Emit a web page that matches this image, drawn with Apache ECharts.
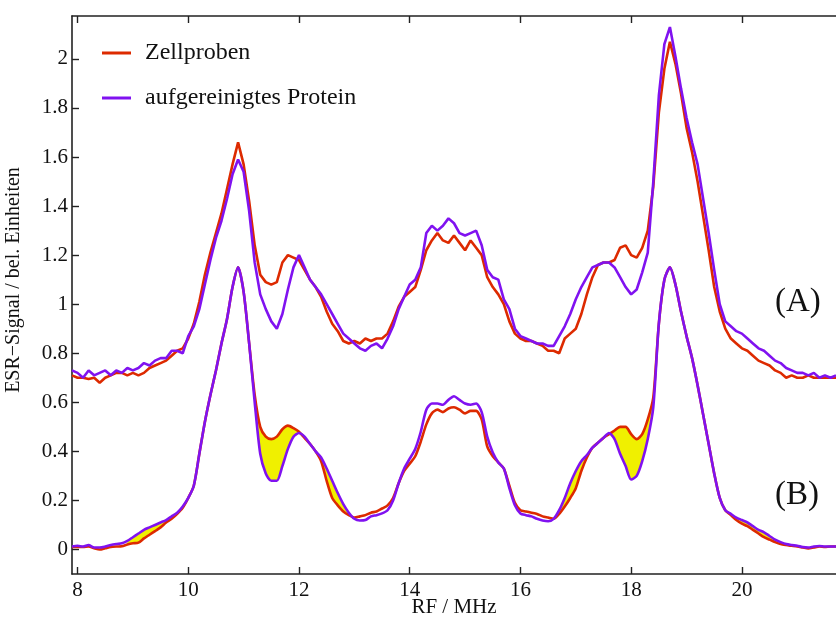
<!DOCTYPE html>
<html>
<head>
<meta charset="utf-8">
<script src="https://cdn.jsdelivr.net/npm/echarts@6/dist/echarts.min.js"></script>
<style>html,body{margin:0;padding:0;background:#fff}#chart{width:836px;height:619px}</style>
</head>
<body>
<div id="chart"></div>
<script>
// RF frequency grid (MHz)
const freq = [
  7.9,8.0,8.1,8.2,8.3,8.4,8.5,8.6,8.7,8.8,
  8.9,9.0,9.1,9.2,9.3,9.4,9.5,9.6,9.7,9.8,
  9.9,10.0,10.1,10.2,10.3,10.4,10.5,10.6,10.7,10.8,
  10.9,11.0,11.1,11.2,11.3,11.4,11.5,11.6,11.7,11.8,
  11.9,12.0,12.1,12.2,12.3,12.4,12.5,12.6,12.7,12.8,
  12.9,13.0,13.1,13.2,13.3,13.4,13.5,13.6,13.7,13.8,
  13.9,14.0,14.1,14.2,14.3,14.4,14.5,14.6,14.7,14.8,
  14.9,15.0,15.1,15.2,15.3,15.4,15.5,15.6,15.7,15.8,
  15.9,16.0,16.1,16.2,16.3,16.4,16.5,16.6,16.7,16.8,
  16.9,17.0,17.1,17.2,17.3,17.4,17.5,17.6,17.7,17.8,
  17.9,18.0,18.1,18.2,18.3,18.4,18.5,18.6,18.7,18.8,
  18.9,19.0,19.1,19.2,19.3,19.4,19.5,19.6,19.7,19.8,
  19.9,20.0,20.1,20.2,20.3,20.4,20.5,20.6,20.7,20.8,
  20.9,21.0,21.1,21.2,21.3,21.4,21.5,21.6,21.7
];
// (A) measured spectra
const zellA = [
  0.71,0.70,0.70,0.695,0.70,0.68,0.70,0.71,0.72,0.72,
  0.71,0.72,0.71,0.72,0.74,0.75,0.76,0.77,0.79,0.81,
  0.82,0.86,0.92,1.01,1.12,1.21,1.29,1.37,1.47,1.57,
  1.66,1.57,1.42,1.24,1.12,1.09,1.08,1.09,1.17,1.20,
  1.19,1.18,1.14,1.10,1.07,1.03,0.97,0.92,0.89,0.85,
  0.84,0.85,0.84,0.86,0.85,0.86,0.86,0.88,0.93,0.99,
  1.03,1.05,1.07,1.14,1.22,1.26,1.29,1.26,1.25,1.28,
  1.25,1.22,1.26,1.23,1.20,1.11,1.07,1.04,1.00,0.93,
  0.88,0.86,0.85,0.85,0.84,0.83,0.81,0.81,0.80,0.86,
  0.88,0.90,0.96,1.04,1.11,1.16,1.17,1.17,1.18,1.23,
  1.24,1.20,1.19,1.23,1.30,1.48,1.78,1.96,2.07,1.98,
  1.86,1.72,1.62,1.50,1.36,1.22,1.07,0.97,0.90,0.86,
  0.84,0.82,0.81,0.79,0.77,0.76,0.75,0.73,0.72,0.70,
  0.71,0.70,0.70,0.71,0.70,0.70,0.70,0.70,0.70
];
const protA = [
  0.73,0.72,0.70,0.73,0.71,0.72,0.73,0.71,0.73,0.72,
  0.74,0.73,0.74,0.76,0.75,0.77,0.78,0.78,0.81,0.81,
  0.80,0.87,0.91,0.98,1.08,1.18,1.27,1.34,1.43,1.53,
  1.59,1.54,1.38,1.17,1.04,0.98,0.93,0.90,0.96,1.06,
  1.15,1.20,1.15,1.10,1.07,1.04,1.00,0.96,0.92,0.88,
  0.86,0.84,0.82,0.81,0.83,0.84,0.82,0.86,0.91,0.98,
  1.03,1.08,1.10,1.15,1.29,1.32,1.30,1.32,1.35,1.33,
  1.29,1.28,1.29,1.30,1.24,1.14,1.11,1.10,1.02,0.98,
  0.90,0.87,0.86,0.85,0.84,0.84,0.83,0.83,0.87,0.91,
  0.96,1.02,1.07,1.11,1.15,1.16,1.17,1.17,1.15,1.11,
  1.07,1.04,1.06,1.13,1.21,1.50,1.85,2.06,2.13,2.01,
  1.88,1.76,1.66,1.57,1.43,1.29,1.14,1.00,0.93,0.91,
  0.89,0.88,0.86,0.84,0.82,0.81,0.79,0.77,0.76,0.74,
  0.73,0.72,0.72,0.71,0.72,0.70,0.71,0.70,0.71
];
// (B) simulated spectra
const zellB = [
  0.010,0.010,0.010,0.012,0.005,0.000,0.005,0.010,0.012,0.013,
  0.020,0.025,0.028,0.045,0.060,0.075,0.090,0.110,0.125,0.145,
  0.170,0.210,0.260,0.390,0.520,0.630,0.730,0.840,0.940,1.070,
  1.150,1.050,0.840,0.630,0.500,0.460,0.450,0.460,0.490,0.505,
  0.495,0.480,0.455,0.430,0.400,0.360,0.280,0.210,0.180,0.155,
  0.140,0.130,0.135,0.140,0.150,0.155,0.167,0.180,0.210,0.270,
  0.320,0.350,0.380,0.440,0.510,0.555,0.570,0.560,0.575,0.580,
  0.570,0.555,0.565,0.565,0.530,0.420,0.380,0.355,0.330,0.260,
  0.190,0.160,0.155,0.150,0.145,0.135,0.130,0.125,0.145,0.175,
  0.210,0.250,0.320,0.375,0.415,0.435,0.455,0.470,0.485,0.500,
  0.500,0.470,0.450,0.470,0.530,0.620,0.920,1.100,1.150,1.080,
  0.970,0.870,0.780,0.670,0.550,0.430,0.310,0.210,0.160,0.140,
  0.120,0.105,0.095,0.080,0.065,0.050,0.040,0.030,0.022,0.018,
  0.015,0.012,0.008,0.004,0.008,0.012,0.010,0.012,0.012
];
const protB = [
  0.012,0.015,0.012,0.018,0.008,0.008,0.012,0.018,0.022,0.025,
  0.035,0.050,0.065,0.080,0.090,0.100,0.110,0.120,0.135,0.150,
  0.175,0.210,0.260,0.390,0.520,0.630,0.730,0.840,0.940,1.070,
  1.150,1.050,0.840,0.600,0.390,0.310,0.280,0.280,0.340,0.410,
  0.460,0.475,0.460,0.430,0.400,0.375,0.330,0.280,0.230,0.185,
  0.150,0.125,0.118,0.120,0.135,0.140,0.147,0.160,0.200,0.270,
  0.330,0.370,0.410,0.480,0.570,0.595,0.595,0.590,0.610,0.625,
  0.610,0.595,0.590,0.595,0.560,0.460,0.395,0.355,0.330,0.250,
  0.180,0.147,0.140,0.135,0.125,0.118,0.115,0.125,0.160,0.210,
  0.270,0.320,0.360,0.385,0.415,0.435,0.455,0.475,0.450,0.390,
  0.340,0.285,0.300,0.360,0.450,0.580,0.920,1.100,1.150,1.080,
  0.970,0.870,0.780,0.670,0.550,0.430,0.310,0.210,0.160,0.145,
  0.130,0.120,0.110,0.095,0.080,0.070,0.055,0.040,0.030,0.022,
  0.018,0.015,0.010,0.008,0.012,0.014,0.012,0.012,0.012
];
// regions of (B) where the difference is highlighted
const fillRanges = [[8.9,9.8],[11.1,12.0],[12.3,12.9],[16.7,17.2],[17.6,18.4],[19.9,20.7]];
const xTicks = [8,10,12,14,16,18,20];
const yTicks = [0,0.2,0.4,0.6,0.8,1,1.2,1.4,1.6,1.8,2];
const legendNames = ['Zellproben','aufgereinigtes Protein'];

const RED = '#dd2a00', PURPLE = '#8012f0', YELLOW = '#f0f000';
const FONT = '"Liberation Serif", "Times New Roman", serif';

const pairs = arr => freq.map((x, i) => [x, arr[i]]);

// yellow band between the two (B) curves, projected with the chart's own axes
const fillSeries = {
  name: 'Differenz', type: 'custom', silent: true, z: 1,
  data: fillRanges.map(r => [r[0], r[1], 0]),
  encode: { x: [0, 1], y: 2 },
  clip: true,
  renderItem: (params, api) => {
    const [a, b] = fillRanges[params.dataIndex];
    const idx = [];
    freq.forEach((x, i) => { if (x >= a - 1e-9 && x <= b + 1e-9) idx.push(i); });
    const upper = idx.map(i => api.coord([freq[i], zellB[i]]));
    const lower = idx.slice().reverse().map(i => api.coord([freq[i], protB[i]]));
    return { type: 'polygon', shape: { points: upper.concat(lower), smooth: 0 },
      style: { fill: YELLOW, stroke: YELLOW, lineWidth: 0.5 } };
  }
};

const lineSeries = (name, data, color, smooth) => ({
  name, type: 'line', data,
  showSymbol: false, symbol: 'none', smooth: smooth,
  lineStyle: { color, width: 2.6 }, itemStyle: { color },
  z: 3
});

const axisCommon = {
  type: 'value', min: 7.9, max: 21.7,
  axisLine: { show: true, onZero: false, lineStyle: { color: '#222', width: 1.6 } },
  splitLine: { show: false }
};

const option = {
  animation: false,
  backgroundColor: '#fff',
  grid: { left: 72, right: 0, top: 16, bottom: 45, containLabel: false, outerBoundsMode: 'none' },
  legend: {
    data: legendNames,
    orient: 'vertical', left: 97, top: 36,
    icon: 'rect', itemWidth: 29, itemHeight: 3, itemGap: 21,
    selectedMode: false,
    textStyle: { fontFamily: FONT, fontSize: 24, color: '#111', padding: [0, 0, 0, 9] }
  },
  xAxis: [
    Object.assign({}, axisCommon, {
      position: 'bottom',
      axisTick: { show: true, inside: true, length: 7, customValues: xTicks, lineStyle: { color: '#222', width: 1.4 } },
      axisLabel: { show: true, customValues: xTicks, fontFamily: FONT, fontSize: 21, color: '#111', margin: 6 },
      name: 'RF / MHz', nameLocation: 'middle', nameGap: 23, nameMoveOverlap: false,
      nameTextStyle: { fontFamily: FONT, fontSize: 21, color: '#111' }
    }),
    Object.assign({}, axisCommon, {
      position: 'top',
      axisTick: { show: true, inside: true, length: 7, customValues: xTicks, lineStyle: { color: '#222', width: 1.4 } },
      axisLabel: { show: false }
    })
  ],
  yAxis: {
    type: 'value', min: -0.1, max: 2.175,
    axisLine: { show: true, onZero: false, lineStyle: { color: '#222', width: 1.6 } },
    axisTick: { show: true, inside: true, length: 7, customValues: yTicks, lineStyle: { color: '#222', width: 1.4 } },
    axisLabel: { show: true, customValues: yTicks, fontFamily: FONT, fontSize: 21, color: '#111', margin: 4 },
    splitLine: { show: false },
    name: 'ESR\u2212Signal / bel. Einheiten', nameLocation: 'middle', nameGap: 48, nameRotate: 90, nameMoveOverlap: false,
    nameTextStyle: { fontFamily: FONT, fontSize: 20, color: '#111', padding: [0, 0, 0, 30] }
  },
  graphic: [
    { type: 'text', left: 775, top: 286, z: 100, style: { text: '(A)', font: '33px "Liberation Serif", serif', fill: '#111' } },
    { type: 'text', left: 775, top: 479, z: 100, style: { text: '(B)', font: '33px "Liberation Serif", serif', fill: '#111' } }
  ],
  series: [fillSeries].concat([
    lineSeries(legendNames[0], pairs(zellA), RED, false),
    lineSeries(legendNames[1], pairs(protA), PURPLE, false),
    lineSeries(legendNames[0], pairs(zellB), RED, 0.25),
    lineSeries(legendNames[1], pairs(protB), PURPLE, 0.25)
  ])
};

const chart = echarts.init(document.getElementById('chart'), null, { renderer: 'canvas' });
chart.setOption(option);
</script>
</body>
</html>
